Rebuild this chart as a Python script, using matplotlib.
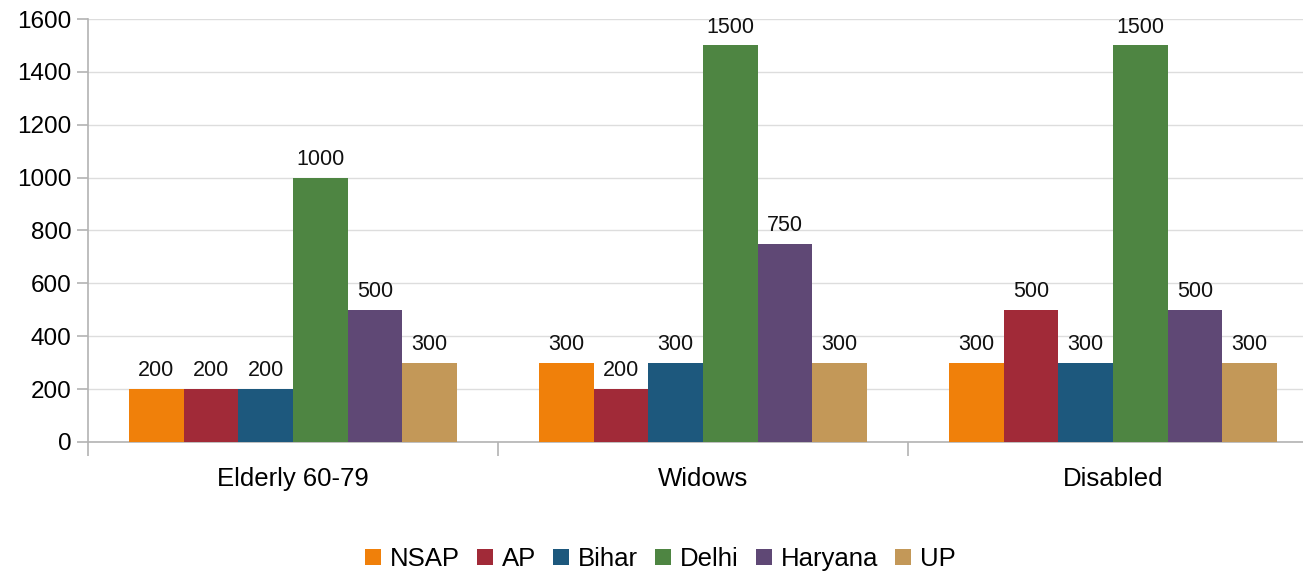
import numpy as np
import matplotlib
matplotlib.use("Agg")
import matplotlib.pyplot as plt

plt.rcParams['font.family'] = ['Liberation Sans', 'DejaVu Sans']

categories = ["Elderly 60-79", "Widows", "Disabled"]
series = ["NSAP", "AP", "Bihar", "Delhi", "Haryana", "UP"]
nsap = [200, 300, 300]
ap = [200, 200, 500]
bihar = [200, 300, 300]
delhi = [1000, 1500, 1500]
haryana = [500, 750, 500]
up = [300, 300, 300]
values = [nsap, ap, bihar, delhi, haryana, up]
colors = ["#F0800A", "#A12A38", "#1D587D", "#4E8542", "#5F4875", "#C39858"]

fig = plt.figure(figsize=(13.03, 5.72), dpi=100)
ax = fig.add_axes([88/1303, 1-442/572, 1230/1303, (442-19)/572])

x = np.arange(len(categories))
w = 0.8 / len(series)
for i, (name, vals) in enumerate(zip(series, values)):
    pos = x - 0.4 + w/2 + i*w
    bars = ax.bar(pos, vals, w, color=colors[i], label=name, zorder=3)
    for b, v in zip(bars, vals):
        ax.text(b.get_x() + b.get_width()/2, v + 30, str(v), ha='center', va='bottom', fontsize=15.5, color='#111111')

ax.set_xlim(-0.5, 2.5)
ax.set_ylim(0, 1600)
ax.set_yticks(range(0, 1601, 200))
ax.tick_params(axis='y', labelsize=17.5, length=8, color='#b3b3b3', width=1.2, pad=4)
ax.set_xticks([-0.5, 0.5, 1.5, 2.5])
ax.set_xticklabels([])
ax.set_xticks(x, minor=True)
ax.set_xticklabels(categories, minor=True, fontsize=18.5)
ax.tick_params(axis='x', which='major', length=10, color='#b3b3b3', width=1.2)
ax.tick_params(axis='x', which='minor', length=0, pad=18)
ax.grid(axis='y', color='#dddddd', linewidth=1, zorder=0)
for s in ['top', 'right']:
    ax.spines[s].set_visible(False)
for s in ['left', 'bottom']:
    ax.spines[s].set_color('#b3b3b3')
    ax.spines[s].set_linewidth(1.2)

fig.legend(loc='center', bbox_to_anchor=(0.507, 1-559/572), ncol=6, frameon=False, fontsize=18.5,
           handlelength=0.62, handleheight=0.62, handletextpad=0.35, columnspacing=0.66)

fig.savefig("out.png", dpi=100)
